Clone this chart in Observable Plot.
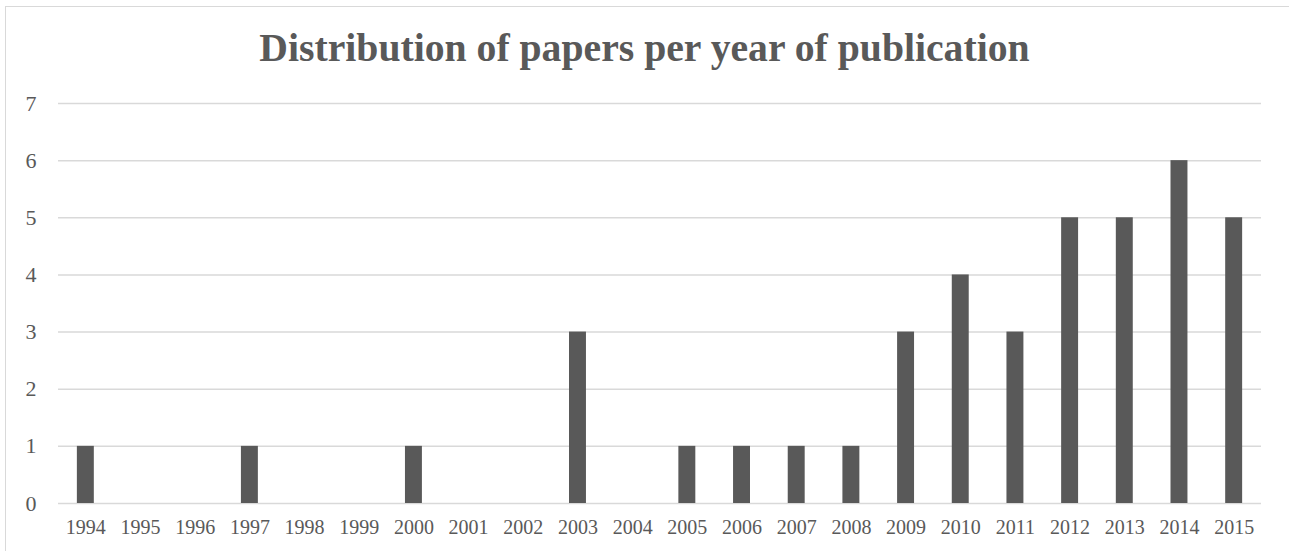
<!DOCTYPE html>
<html>
<head>
<meta charset="utf-8">
<script src="https://cdn.jsdelivr.net/npm/d3@7"></script>
<script src="https://cdn.jsdelivr.net/npm/@observablehq/plot@0.6"></script>
<style>
  html, body { margin: 0; padding: 0; background: #fff; }
  #wrap { position: relative; width: 1289px; height: 551px; overflow: hidden; background: #fff; }
  #frame { position: absolute; left: 5px; top: 6px; width: 1400px; height: 700px; border: 1.5px solid #d9d9d9; box-sizing: border-box; }
  #title { position: absolute; left: 0; width: 1289px; top: 29px; text-align: center;
           font-family: "Liberation Serif", serif; font-weight: bold; font-size: 39.7px; color: #595959; line-height: 1; }
  #chart { position: absolute; left: 0; top: 0; }
</style>
</head>
<body>
<div id="wrap">
  <div id="frame"></div>
  <div id="title">Distribution of papers per year of publication</div>
  <div id="chart"></div>
</div>
<script>
const years = ["1994","1995","1996","1997","1998","1999","2000","2001","2002","2003","2004",
               "2005","2006","2007","2008","2009","2010","2011","2012","2013","2014","2015"];
const papers = [1,0,0,1,0,0,1,0,0,3,0,1,1,1,1,3,4,3,5,5,6,5];
const yTicks = [0,1,2,3,4,5,6,7];

const data = years.map((y, i) => ({year: y, count: papers[i]}));

const chart = Plot.plot({
  width: 1289,
  height: 551,
  marginLeft: 58,
  marginRight: 28,
  marginTop: 103,
  marginBottom: 48,
  style: {fontFamily: "'Liberation Serif', serif", color: "#595959", background: "transparent"},
  x: {domain: years, paddingInner: 0.69, paddingOuter: 0.345, round: false, label: null},
  y: {domain: [0, 7], label: null},
  marks: [
    Plot.gridY(yTicks, {stroke: "#d9d9d9", strokeOpacity: 1, strokeWidth: 1.5}),
    Plot.barY(data, {x: "year", y: "count", fill: "#595959"}),
    Plot.axisX({tickSize: 0, tickPadding: 16, fontSize: 20, fill: "#595959"}),
    Plot.axisY(yTicks, {tickSize: 0, tickPadding: 22, fontSize: 22, fill: "#595959", tickFormat: d => String(d)})
  ]
});
document.getElementById("chart").appendChild(chart);
</script>
</body>
</html>
